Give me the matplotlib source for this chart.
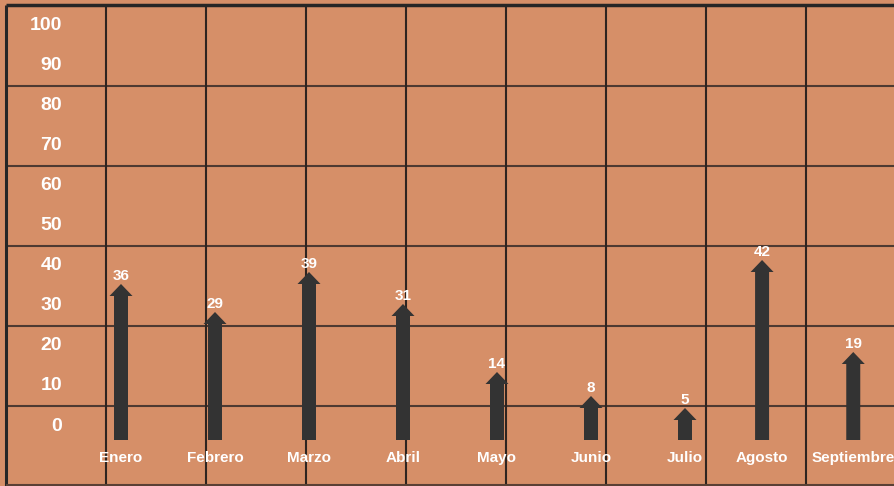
import matplotlib
matplotlib.use("Agg")
import matplotlib.pyplot as plt

# data
meses = ["Enero", "Febrero", "Marzo", "Abril", "Mayo", "Junio", "Julio", "Agosto", "Septiembre"]
valores = [36, 29, 39, 31, 14, 8, 5, 42, 19]
ticks = [0, 10, 20, 30, 40, 50, 60, 70, 80, 90, 100]

# layout (pixels / slot positions)
W, H = 895, 486
xpos = [0, 1, 2, 3, 4, 5, 6, 6.82, 7.79]
zero_px = 428
px_per_unit = 4.0
slot_px = 94
x0_px = 121
offset = 3  # arrows start a little below zero

fondo = "#D68F68"
oscuro = "#333333"
plt.rcParams['font.family'] = ['Liberation Sans', 'DejaVu Sans']

fig = plt.figure(figsize=(W / 100, H / 100), dpi=100)
fig.patch.set_facecolor(fondo)

# background grid in pixel coords
bg = fig.add_axes([0, 0, 1, 1])
bg.set_xlim(0, W)
bg.set_ylim(H, 0)
bg.axis("off")
bg.hlines([406 - 80 * k for k in range(5)], 6, W, color="#4e3a32", lw=1.5)
bg.vlines([6 + 100 * k for k in range(1, 9)], 5, H, color="#2e2420", lw=1.5)
bg.hlines(5, 6, W, color="#262626", lw=2.5)
bg.vlines(6, 5, H, color="#262626", lw=2.2)
bg.hlines(485, 6, W, color="#5a4035", lw=1.5)

# arrows
ax = fig.add_axes([0, 0, 1, 1])
ax.patch.set_alpha(0)
ax.set_xlim(-x0_px / slot_px, (W - x0_px) / slot_px)
ax.set_ylim(-(H - zero_px) / px_per_unit, zero_px / px_per_unit)
ax.axis("off")

for t in ticks:
    ax.text(62 / slot_px - x0_px / slot_px, t + 0.5, str(t), ha="right", va="center",
            color="white", fontsize=14, fontweight="bold")

head_len = 12 / px_per_unit
for x, v, m in zip(xpos, valores, meses):
    ax.arrow(x, -offset, 0, v + offset, width=14 / slot_px, head_width=23 / slot_px,
             head_length=head_len, length_includes_head=True,
             color=oscuro, lw=0)
    ax.annotate(str(v), (x, v), xytext=(0, 1), textcoords="offset points",
                ha="center", va="bottom", color="white", fontsize=11, fontweight="bold")
    ax.annotate(m, (x, -offset), xytext=(0, -13), textcoords="offset points",
                ha="center", va="center", color="white", fontsize=11, fontweight="bold")

fig.savefig("out.png", dpi=100, facecolor=fondo)
